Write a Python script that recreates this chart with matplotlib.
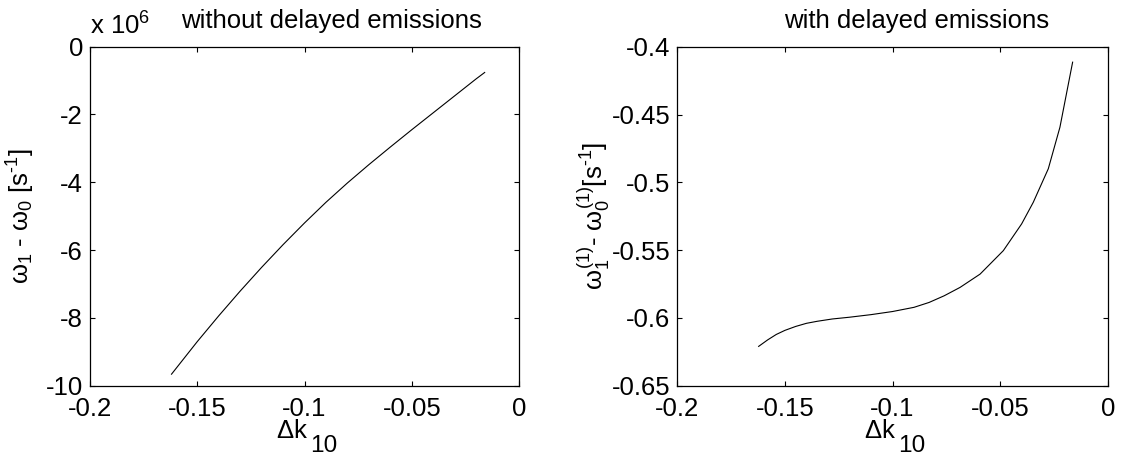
import matplotlib
matplotlib.use("Agg")
import matplotlib.pyplot as plt
from matplotlib.ticker import FuncFormatter, MultipleLocator

plt.rcParams['font.family'] = ['Liberation Sans', 'DejaVu Sans']
plt.rcParams['mathtext.fontset'] = 'custom'
plt.rcParams['mathtext.rm'] = 'Liberation Sans'
plt.rcParams['mathtext.it'] = 'Liberation Sans'
plt.rcParams['axes.unicode_minus'] = False

# reactivity step vs. frequency shift, prompt neutrons only (units of 1e6 s^-1)
dk_prompt = [-0.162, -0.15, -0.14, -0.13, -0.12, -0.11, -0.10, -0.09, -0.08,
             -0.07, -0.06, -0.05, -0.04, -0.03, -0.02, -0.016]
dw_prompt = [-9.66, -8.70, -7.94, -7.21, -6.51, -5.84, -5.20, -4.59, -4.02,
             -3.48, -2.96, -2.45, -1.95, -1.45, -0.95, -0.76]

# same with delayed precursors included (s^-1)
dk_delayed = [-0.1622, -0.158, -0.154, -0.150, -0.145, -0.140, -0.135, -0.128,
              -0.120, -0.110, -0.100, -0.090, -0.083, -0.076, -0.0686, -0.0593,
              -0.0485, -0.0400, -0.0346, -0.0276, -0.0222, -0.0163]
dw_delayed = [-0.621, -0.6162, -0.6122, -0.6092, -0.6063, -0.6040, -0.6025,
              -0.6008, -0.5995, -0.5976, -0.5953, -0.5922, -0.5886, -0.5837,
              -0.5775, -0.5677, -0.5504, -0.5307, -0.5148, -0.490, -0.4594,
              -0.4114]

FS = 18.5
W, H = 1122, 457

fig = plt.figure(figsize=(W / 100, H / 100), dpi=100)
ax1 = fig.add_axes([90 / W, (H - 385.7) / H, 429 / W, 339 / H])
ax2 = fig.add_axes([677.3 / W, (H - 385.7) / H, 430.4 / W, 339 / H])

fmt = FuncFormatter(lambda v, _: '{:g}'.format(round(v, 6)))


def style(ax):
    ax.set_xlim(-0.2, 0)
    ax.xaxis.set_major_locator(MultipleLocator(0.05))
    ax.xaxis.set_major_formatter(fmt)
    ax.yaxis.set_major_formatter(fmt)
    ax.tick_params(direction='in', length=3.5, width=0.8, top=True, right=True,
                   labelsize=FS, colors='black')
    ax.tick_params(axis='x', pad=8)
    ax.tick_params(axis='y', pad=5)
    for s in ax.spines.values():
        s.set_linewidth(0.9)
    # delta k with a dropped, spaced-out subscript
    ax.text(0.471, -0.154, r'$\Delta$k', transform=ax.transAxes, fontsize=FS,
            ha='center', va='baseline')
    ax.text(0.513, -0.196, '10', transform=ax.transAxes, fontsize=FS * 0.95,
            ha='left', va='baseline')


ax1.plot(dk_prompt, dw_prompt, color='black', lw=0.8)
style(ax1)
ax1.set_ylim(-10, 0)
ax1.yaxis.set_major_locator(MultipleLocator(2))
ax1.set_ylabel(r'$\omega_1$ - $\omega_0$ [s$^{\text{-}1}$]', fontsize=FS, labelpad=6)
ax1.text(0, 1.035, r'x 10$^6$', transform=ax1.transAxes, fontsize=FS,
         ha='left', va='baseline')
ax1.text(0.562, 1.055, 'without delayed emissions', transform=ax1.transAxes,
         fontsize=FS, ha='center', va='baseline')

ax2.plot(dk_delayed, dw_delayed, color='black', lw=0.8)
style(ax2)
ax2.set_ylim(-0.65, -0.4)
ax2.yaxis.set_major_locator(MultipleLocator(0.05))
ax2.set_ylabel(r'$\omega_1^{(1)}$- $\omega_0^{(1)}$[s$^{\text{-}1}$]',
               fontsize=FS, labelpad=0)
ax2.text(0.557, 1.055, 'with delayed emissions', transform=ax2.transAxes,
         fontsize=FS, ha='center', va='baseline')

fig.savefig('out.png', dpi=100, facecolor='white')
